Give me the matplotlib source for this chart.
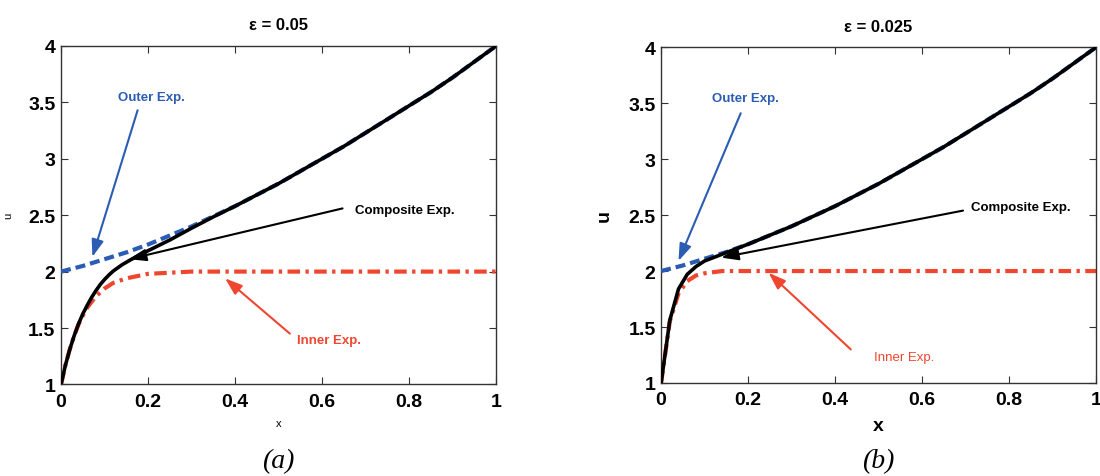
import matplotlib.pyplot as plt

plt.rcParams['font.family'] = ['Liberation Sans', 'DejaVu Sans']

# values
EPSILONS = ["0.05", "0.025"]
CAPTIONS = ["(a)", "(b)"]

X_OUTER = [0, 0.05, 0.1, 0.15, 0.2, 0.25, 0.3, 0.35, 0.4, 0.45, 0.5,
           0.55, 0.6, 0.65, 0.7, 0.75, 0.8, 0.85, 0.9, 0.95, 1.0]
U_OUTER = [2.00, 2.05, 2.11, 2.17, 2.24, 2.32, 2.40, 2.49, 2.58, 2.68, 2.78,
           2.89, 3.00, 3.11, 3.23, 3.35, 3.47, 3.59, 3.72, 3.86, 4.00]

X_COMP_A = [0, 0.01, 0.02, 0.03, 0.04, 0.05, 0.06, 0.07, 0.08, 0.09, 0.10,
            0.11, 0.12, 0.14, 0.16, 0.18, 0.20, 0.25, 0.30, 0.35, 0.4, 0.45,
            0.5, 0.55, 0.6, 0.65, 0.7, 0.75, 0.8, 0.85, 0.9, 0.95, 1.0]
U_COMP_A = [1.00, 1.17, 1.31, 1.43, 1.535, 1.625, 1.70, 1.77, 1.83, 1.885, 1.93,
            1.97, 2.005, 2.06, 2.105, 2.145, 2.185, 2.28, 2.385, 2.485, 2.58, 2.68,
            2.78, 2.89, 3.00, 3.11, 3.23, 3.35, 3.47, 3.59, 3.72, 3.86, 4.00]

X_INNER_A = [0, 0.01, 0.02, 0.03, 0.04, 0.05, 0.06, 0.08, 0.10, 0.12, 0.15,
             0.20, 0.25, 0.30, 1.0]
U_INNER_A = [1.00, 1.17, 1.31, 1.43, 1.53, 1.61, 1.68, 1.78, 1.85, 1.90, 1.94,
             1.98, 1.99, 2.00, 2.00]

X_COMP_B = [0, 0.02, 0.04, 0.06, 0.08, 0.10, 0.12, 0.14, 0.16, 0.18, 0.20,
            0.25, 0.3, 0.35, 0.4, 0.45, 0.5, 0.55, 0.6, 0.65, 0.7, 0.75,
            0.8, 0.85, 0.9, 0.95, 1.0]
U_COMP_B = [1.00, 1.56, 1.84, 1.97, 2.04, 2.09, 2.12, 2.15, 2.18, 2.21, 2.24,
            2.32, 2.40, 2.49, 2.58, 2.68, 2.78, 2.89, 3.00, 3.11, 3.23, 3.35,
            3.47, 3.59, 3.72, 3.86, 4.00]

X_INNER_B = [0, 0.02, 0.04, 0.06, 0.08, 0.10, 0.12, 0.14, 1.0]
U_INNER_B = [1.00, 1.55, 1.80, 1.91, 1.96, 1.98, 1.99, 2.00, 2.00]

X_TICKS = [0, 0.2, 0.4, 0.6, 0.8, 1]
X_TICK_LABELS = ["0", "0.2", "0.4", "0.6", "0.8", "1"]
Y_TICKS = [1, 1.5, 2, 2.5, 3, 3.5, 4]
Y_TICK_LABELS = ["1", "1.5", "2", "2.5", "3", "3.5", "4"]

BLUE = "#2b5cb4"
RED = "#ef4630"

# label text position, arrow tail, arrow head (data coords) per panel
NOTES = [
    [("Outer Exp.", BLUE, "bold", (0.208, 3.55), (0.176, 3.43), (0.072, 2.13)),
     ("Composite Exp.", "black", "bold", (0.79, 2.55), (0.647, 2.56), (0.156, 2.11)),
     ("Inner Exp.", RED, "bold", (0.617, 1.39), (0.526, 1.45), (0.377, 1.94))],
    [("Outer Exp.", BLUE, "bold", (0.194, 3.545), (0.183, 3.41), (0.040, 2.09)),
     ("Composite Exp.", "black", "bold", (0.827, 2.57), (0.694, 2.54), (0.138, 2.12)),
     ("Inner Exp.", RED, "normal", (0.559, 1.235), (0.436, 1.30), (0.247, 1.985))],
]


def main() -> None:
    fig = plt.figure(figsize=(11, 4.77), dpi=100)
    rects = [[0.0555, 0.192, 0.3955, 0.7096], [0.601, 0.195, 0.3955, 0.704]]
    series = [(X_COMP_A, U_COMP_A, X_INNER_A, U_INNER_A),
              (X_COMP_B, U_COMP_B, X_INNER_B, U_INNER_B)]

    for i, rect in enumerate(rects):
        ax = fig.add_axes(rect)
        xc, uc, xi, ui = series[i]
        ax.plot(xi, ui, color=RED, linewidth=3.0,
                linestyle=(0, (3.0, 1.3, 0.8, 1.3)), zorder=2)
        ax.plot(X_OUTER, U_OUTER, color=BLUE, linewidth=3.0,
                linestyle=(0, (2.4, 1.2)), zorder=3)
        ax.plot(xc, uc, color="black", linewidth=2.6, zorder=4)

        ax.set_xlim(0, 1)
        ax.set_ylim(1, 4)
        ax.set_xticks(X_TICKS, X_TICK_LABELS, fontweight="bold")
        ax.set_yticks(Y_TICKS, Y_TICK_LABELS, fontweight="bold")
        ax.tick_params(direction="in", top=True, right=True, length=5,
                       width=0.8, labelsize=14, color="#333333")
        ax.tick_params(axis="x", pad=6)
        ax.tick_params(axis="y", pad=4)
        for sp in ax.spines.values():
            sp.set_linewidth(1.0)
            sp.set_color("#333333")

        ax.set_title(f"\u03b5 = {EPSILONS[i]}", fontsize=12, fontweight="bold", pad=12)
        if i == 0:
            ax.set_xlabel("x", fontsize=8)
            ax.set_ylabel("u", fontsize=8)
        else:
            ax.set_xlabel("x", fontsize=14, fontweight="bold")
            ax.set_ylabel("u", fontsize=14, fontweight="bold")
        ax.xaxis.set_label_coords(0.5, -0.10)
        ax.yaxis.set_label_coords(-0.111, 0.5)

        for text, color, weight, pos, tail, head in NOTES[i]:
            ax.text(pos[0], pos[1], text, color=color, fontsize=9.5,
                    fontweight=weight, ha="center", va="center", zorder=6)
            ax.annotate("", xy=head, xytext=tail, zorder=5,
                        arrowprops=dict(arrowstyle="-|>,head_length=0.8,head_width=0.28",
                                        color=color, linewidth=1.5,
                                        mutation_scale=13, shrinkA=0, shrinkB=0))

        cx = rect[0] + rect[2] / 2
        fig.text(cx, 0.033, CAPTIONS[i], fontsize=20, style="italic",
                 family=["Liberation Serif", "DejaVu Serif"], ha="center", va="center")

    fig.savefig("out.png", dpi=100)
    plt.close(fig)


if __name__ == "__main__":
    main()
